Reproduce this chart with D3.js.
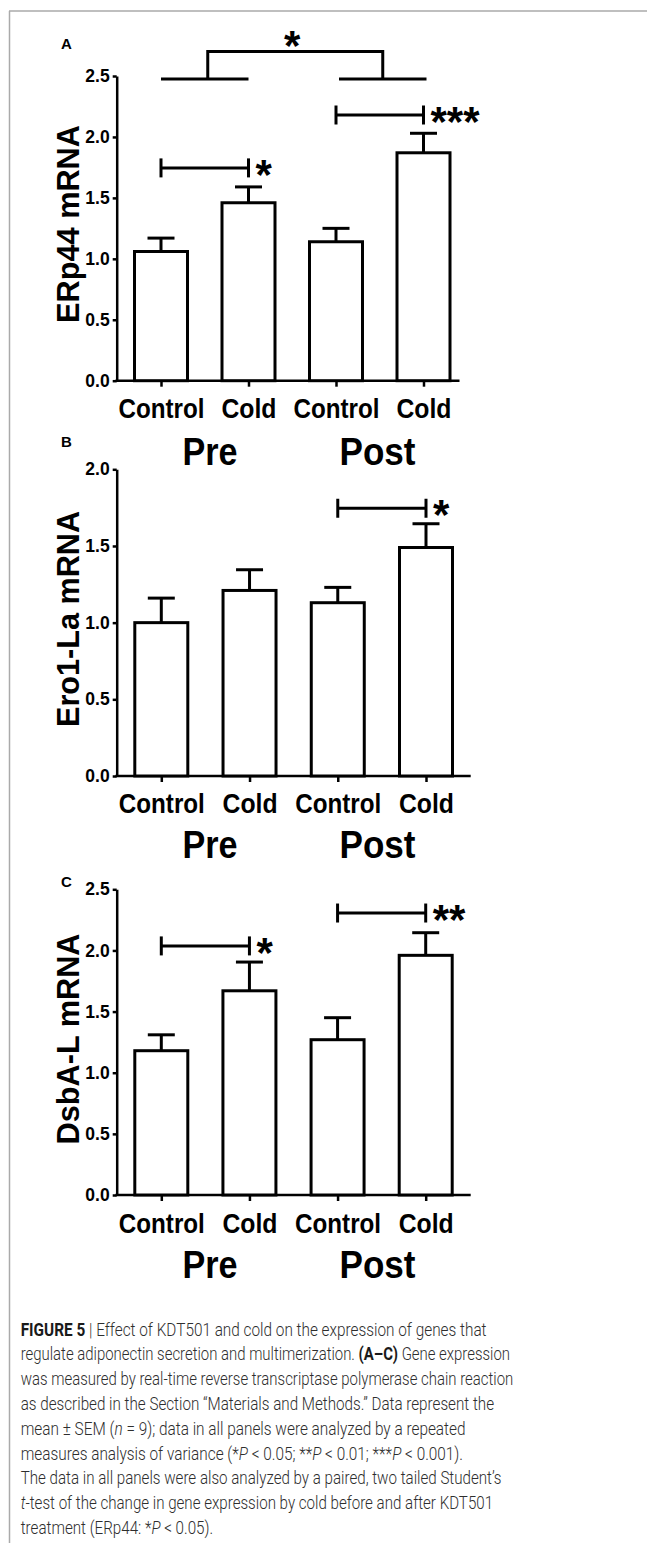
<!DOCTYPE html>
<html><head><meta charset="utf-8">
<script src="https://cdn.jsdelivr.net/npm/d3@7"></script>
<style>html,body{margin:0;padding:0;background:#fff;} svg{display:block;}</style>
</head><body><svg id="fig" width="647" height="1543"></svg>
<script>
// ---------------- data ----------------
const categories = ["Control", "Cold", "Control", "Cold"];
const groups = ["Pre", "Post"];
const tickValuesA = [0, 0.5, 1.0, 1.5, 2.0, 2.5];
const tickValuesB = [0, 0.5, 1.0, 1.5, 2.0];
const tickValuesC = [0, 0.5, 1.0, 1.5, 2.0, 2.5];

const erp44Mean = [1.06, 1.46, 1.14, 1.87];
const erp44Sem  = [0.11, 0.13, 0.11, 0.16];
const ero1Mean  = [1.00, 1.21, 1.13, 1.49];
const ero1Sem   = [0.16, 0.135, 0.10, 0.155];
const dsbaMean  = [1.18, 1.67, 1.27, 1.96];
const dsbaSem   = [0.13, 0.235, 0.18, 0.185];

const erp44Sig = [{from: 0, to: 1, level: 1.746, label: "*"}, {from: 2, to: 3, level: 2.18, label: "***"}];
const erp44GroupSig = {level: 2.475, top: 2.70, label: "*"};
const ero1Sig = [{from: 2, to: 3, level: 1.746, label: "*"}];
const dsbaSig = [{from: 0, to: 1, level: 2.037, label: "*"}, {from: 2, to: 3, level: 2.306, label: "**"}];

const captionLines = [
  [["FIGURE 5", "b"], [" | Effect of KDT501 and cold on the expression of genes that", ""]],
  [["regulate adiponectin secretion and multimerization. ", ""], ["(A–C)", "b"], [" Gene expression", ""]],
  [["was measured by real-time reverse transcriptase polymerase chain reaction", ""]],
  [["as described in the Section \u201cMaterials and Methods.\u201d Data represent the", ""]],
  [["mean \u00b1 SEM (", ""], ["n", "i"], [" = 9); data in all panels were analyzed by a repeated", ""]],
  [["measures analysis of variance (*", ""], ["P", "i"], [" < 0.05; **", ""], ["P", "i"], [" < 0.01; ***", ""], ["P", "i"], [" < 0.001).", ""]],
  [["The data in all panels were also analyzed by a paired, two tailed Student\u2019s", ""]],
  [["t", "i"], ["-test of the change in gene expression by cold before and after KDT501", ""]],
  [["treatment (ERp44: *", ""], ["P", "i"], [" < 0.05).", ""]]
];
const captionRight = [487, 510.7, 513.7, 494.3, 465.7, 463.3, 501.7, 493.3, 213.3];

// ---------------- layout ----------------
const FONT = "'Liberation Sans', Arial, Helvetica, sans-serif";
const axisX = 116.7;
const panels = [
  {letter: "A", title: "ERp44 mRNA", mean: erp44Mean, sem: erp44Sem, ticks: tickValuesA, sig: erp44Sig, groupSig: erp44GroupSig,
   yMax: 2.5, y0: 380.7, y1: 76, x0: 161, x1: 423.5, axisEnd: 459.5, letterY: 48.5, titleY: 224, titleLen: 198, catY: 418, grpY: 465},
  {letter: "B", title: "Ero1-La mRNA", mean: ero1Mean, sem: ero1Sem, ticks: tickValuesB, sig: ero1Sig, groupSig: null,
   yMax: 2.0, y0: 776, y1: 469.3, x0: 161.3, x1: 426, axisEnd: 470.7, letterY: 447, titleY: 619, titleLen: 216, catY: 813, grpY: 858.3},
  {letter: "C", title: "DsbA-L mRNA", mean: dsbaMean, sem: dsbaSem, ticks: tickValuesC, sig: dsbaSig, groupSig: null,
   yMax: 2.5, y0: 1195, y1: 889.3, x0: 161.3, x1: 425.7, axisEnd: 470.7, letterY: 887, titleY: 1039, titleLen: 211, catY: 1233, grpY: 1278}
];

const svg = d3.select("#fig");

// frame
svg.append("line").attr("x1", 9).attr("x2", 647).attr("y1", 11).attr("y2", 11)
  .attr("stroke", "#aaa").attr("stroke-width", 1.5);
svg.append("line").attr("x1", 9.5).attr("x2", 9.5).attr("y1", 11).attr("y2", 1543)
  .attr("stroke", "#aaa").attr("stroke-width", 1.5);

const groupX = d3.scalePoint().domain(groups).range([210, 377.5]);

panels.forEach(p => {
  const g = svg.append("g");
  const y = d3.scaleLinear().domain([0, p.yMax]).range([p.y0, p.y1]);
  const x = d3.scalePoint().domain(d3.range(categories.length)).range([p.x0, p.x1]);

  // panel letter
  g.append("text").attr("x", 61).attr("y", p.letterY).text(p.letter)
    .attr("font-family", FONT).attr("font-weight", "bold").attr("font-size", 15).attr("fill", "#000");

  // y title
  g.append("text").attr("transform", `translate(79,${p.titleY}) rotate(-90)`)
    .attr("text-anchor", "middle").text(p.title)
    .attr("font-family", FONT).attr("font-weight", "bold").attr("font-size", 30.5)
    .attr("textLength", p.titleLen).attr("lengthAdjust", "spacingAndGlyphs").attr("fill", "#000");

  // y axis
  const ya = g.append("g").attr("transform", `translate(${axisX},0)`)
    .call(d3.axisLeft(y).tickValues(p.ticks).tickFormat(d3.format(".1f")).tickSize(4).tickSizeOuter(0).tickPadding(3));
  ya.select(".domain").attr("stroke", "#000").attr("stroke-width", 2.5);
  ya.selectAll(".tick line").attr("stroke", "#000").attr("stroke-width", 2.5);
  ya.selectAll(".tick text").attr("font-family", FONT).attr("font-weight", "bold").attr("font-size", 17.5).attr("fill", "#000");

  // x axis (ticks + labels)
  const xa = g.append("g").attr("transform", `translate(0,${p.y0})`)
    .call(d3.axisBottom(x).tickFormat(i => categories[i]).tickSize(6).tickSizeOuter(0));
  xa.select(".domain").remove();
  xa.selectAll(".tick line").attr("stroke", "#000").attr("stroke-width", 2.5);
  xa.selectAll(".tick text").attr("y", p.catY - p.y0).attr("dy", null)
    .attr("font-family", FONT).attr("font-weight", "bold").attr("font-size", 28).attr("fill", "#000")
    .attr("textLength", i => categories[i] === "Control" ? 86 : 55).attr("lengthAdjust", "spacingAndGlyphs");
  // baseline
  g.append("line").attr("x1", axisX - 1.25).attr("x2", p.axisEnd).attr("y1", p.y0).attr("y2", p.y0)
    .attr("stroke", "#000").attr("stroke-width", 2.5);

  // group labels
  g.selectAll(".grp").data(groups).join("text")
    .attr("x", d => groupX(d)).attr("y", p.grpY).attr("text-anchor", "middle").text(d => d)
    .attr("font-family", FONT).attr("font-weight", "bold").attr("font-size", 39).attr("fill", "#000")
    .attr("textLength", d => d === "Pre" ? 55 : 76).attr("lengthAdjust", "spacingAndGlyphs");

  // bars
  const bw = 53;
  g.selectAll(".bar").data(p.mean).join("rect")
    .attr("x", (d, i) => x(i) - bw / 2).attr("width", bw)
    .attr("y", d => y(d)).attr("height", d => p.y0 - y(d))
    .attr("fill", "#fff").attr("stroke", "#000").attr("stroke-width", 3);
  // error bars (upper only)
  p.mean.forEach((m, i) => {
    g.append("line").attr("x1", x(i)).attr("x2", x(i)).attr("y1", y(m)).attr("y2", y(m + p.sem[i]))
      .attr("stroke", "#000").attr("stroke-width", 3);
    g.append("line").attr("x1", x(i) - 13.5).attr("x2", x(i) + 13.5).attr("y1", y(m + p.sem[i])).attr("y2", y(m + p.sem[i]))
      .attr("stroke", "#000").attr("stroke-width", 3);
  });

  // significance brackets
  p.sig.forEach(s => {
    const yy = y(s.level);
    g.append("line").attr("x1", x(s.from)).attr("x2", x(s.to)).attr("y1", yy).attr("y2", yy)
      .attr("stroke", "#000").attr("stroke-width", 3);
    [s.from, s.to].forEach(k => g.append("line").attr("x1", x(k)).attr("x2", x(k))
      .attr("y1", yy - 9.5).attr("y2", yy + 9.5).attr("stroke", "#000").attr("stroke-width", 3));
    g.append("text").attr("x", x(s.to) + 7).attr("y", yy + 21).text(s.label)
      .attr("font-family", FONT).attr("font-weight", "bold").attr("font-size", 42).attr("fill", "#000");
  });

  if (p.groupSig) {
    const s = p.groupSig;
    const yy = y(s.level), yt = y(s.top);
    const m1 = (x(0) + x(1)) / 2 + 3, m2 = (x(2) + x(3)) / 2 + 3;
    g.append("line").attr("x1", x(0)).attr("x2", x(1)).attr("y1", yy).attr("y2", yy).attr("stroke", "#000").attr("stroke-width", 3);
    g.append("line").attr("x1", x(2) + 3).attr("x2", x(3) + 3).attr("y1", yy).attr("y2", yy).attr("stroke", "#000").attr("stroke-width", 3);
    g.append("path").attr("d", `M${m1},${yy}V${yt}H${m2}V${yy}`).attr("fill", "none")
      .attr("stroke", "#000").attr("stroke-width", 3);
    g.append("text").attr("x", (m1 + m2) / 2 - 3).attr("y", yt + 8).attr("text-anchor", "middle").text(s.label)
      .attr("font-family", FONT).attr("font-weight", "bold").attr("font-size", 42).attr("fill", "#000");
  }
});

// caption
const capX = 20.7;
captionLines.forEach((segs, li) => {
  const t = svg.append("text").attr("y", 0).attr("x", 0)
    .attr("font-family", "Roboto, 'Liberation Sans', sans-serif").attr("font-weight", 300)
    .attr("font-size", 18).attr("fill", "#2e2e2e");
  segs.forEach(([txt, st]) => {
    const ts = t.append("tspan").text(txt);
    if (st === "b") ts.attr("font-weight", 700).attr("fill", "#1a1a1a");
    if (st === "i") ts.attr("font-style", "italic");
  });
  const bb = t.node().getBBox();
  const sx = (captionRight[li] - capX) / bb.width;
  t.attr("transform", `translate(${capX - bb.x * sx},${1335.5 + li * 24.8}) scale(${sx},1)`);
});
</script>
</body></html>
